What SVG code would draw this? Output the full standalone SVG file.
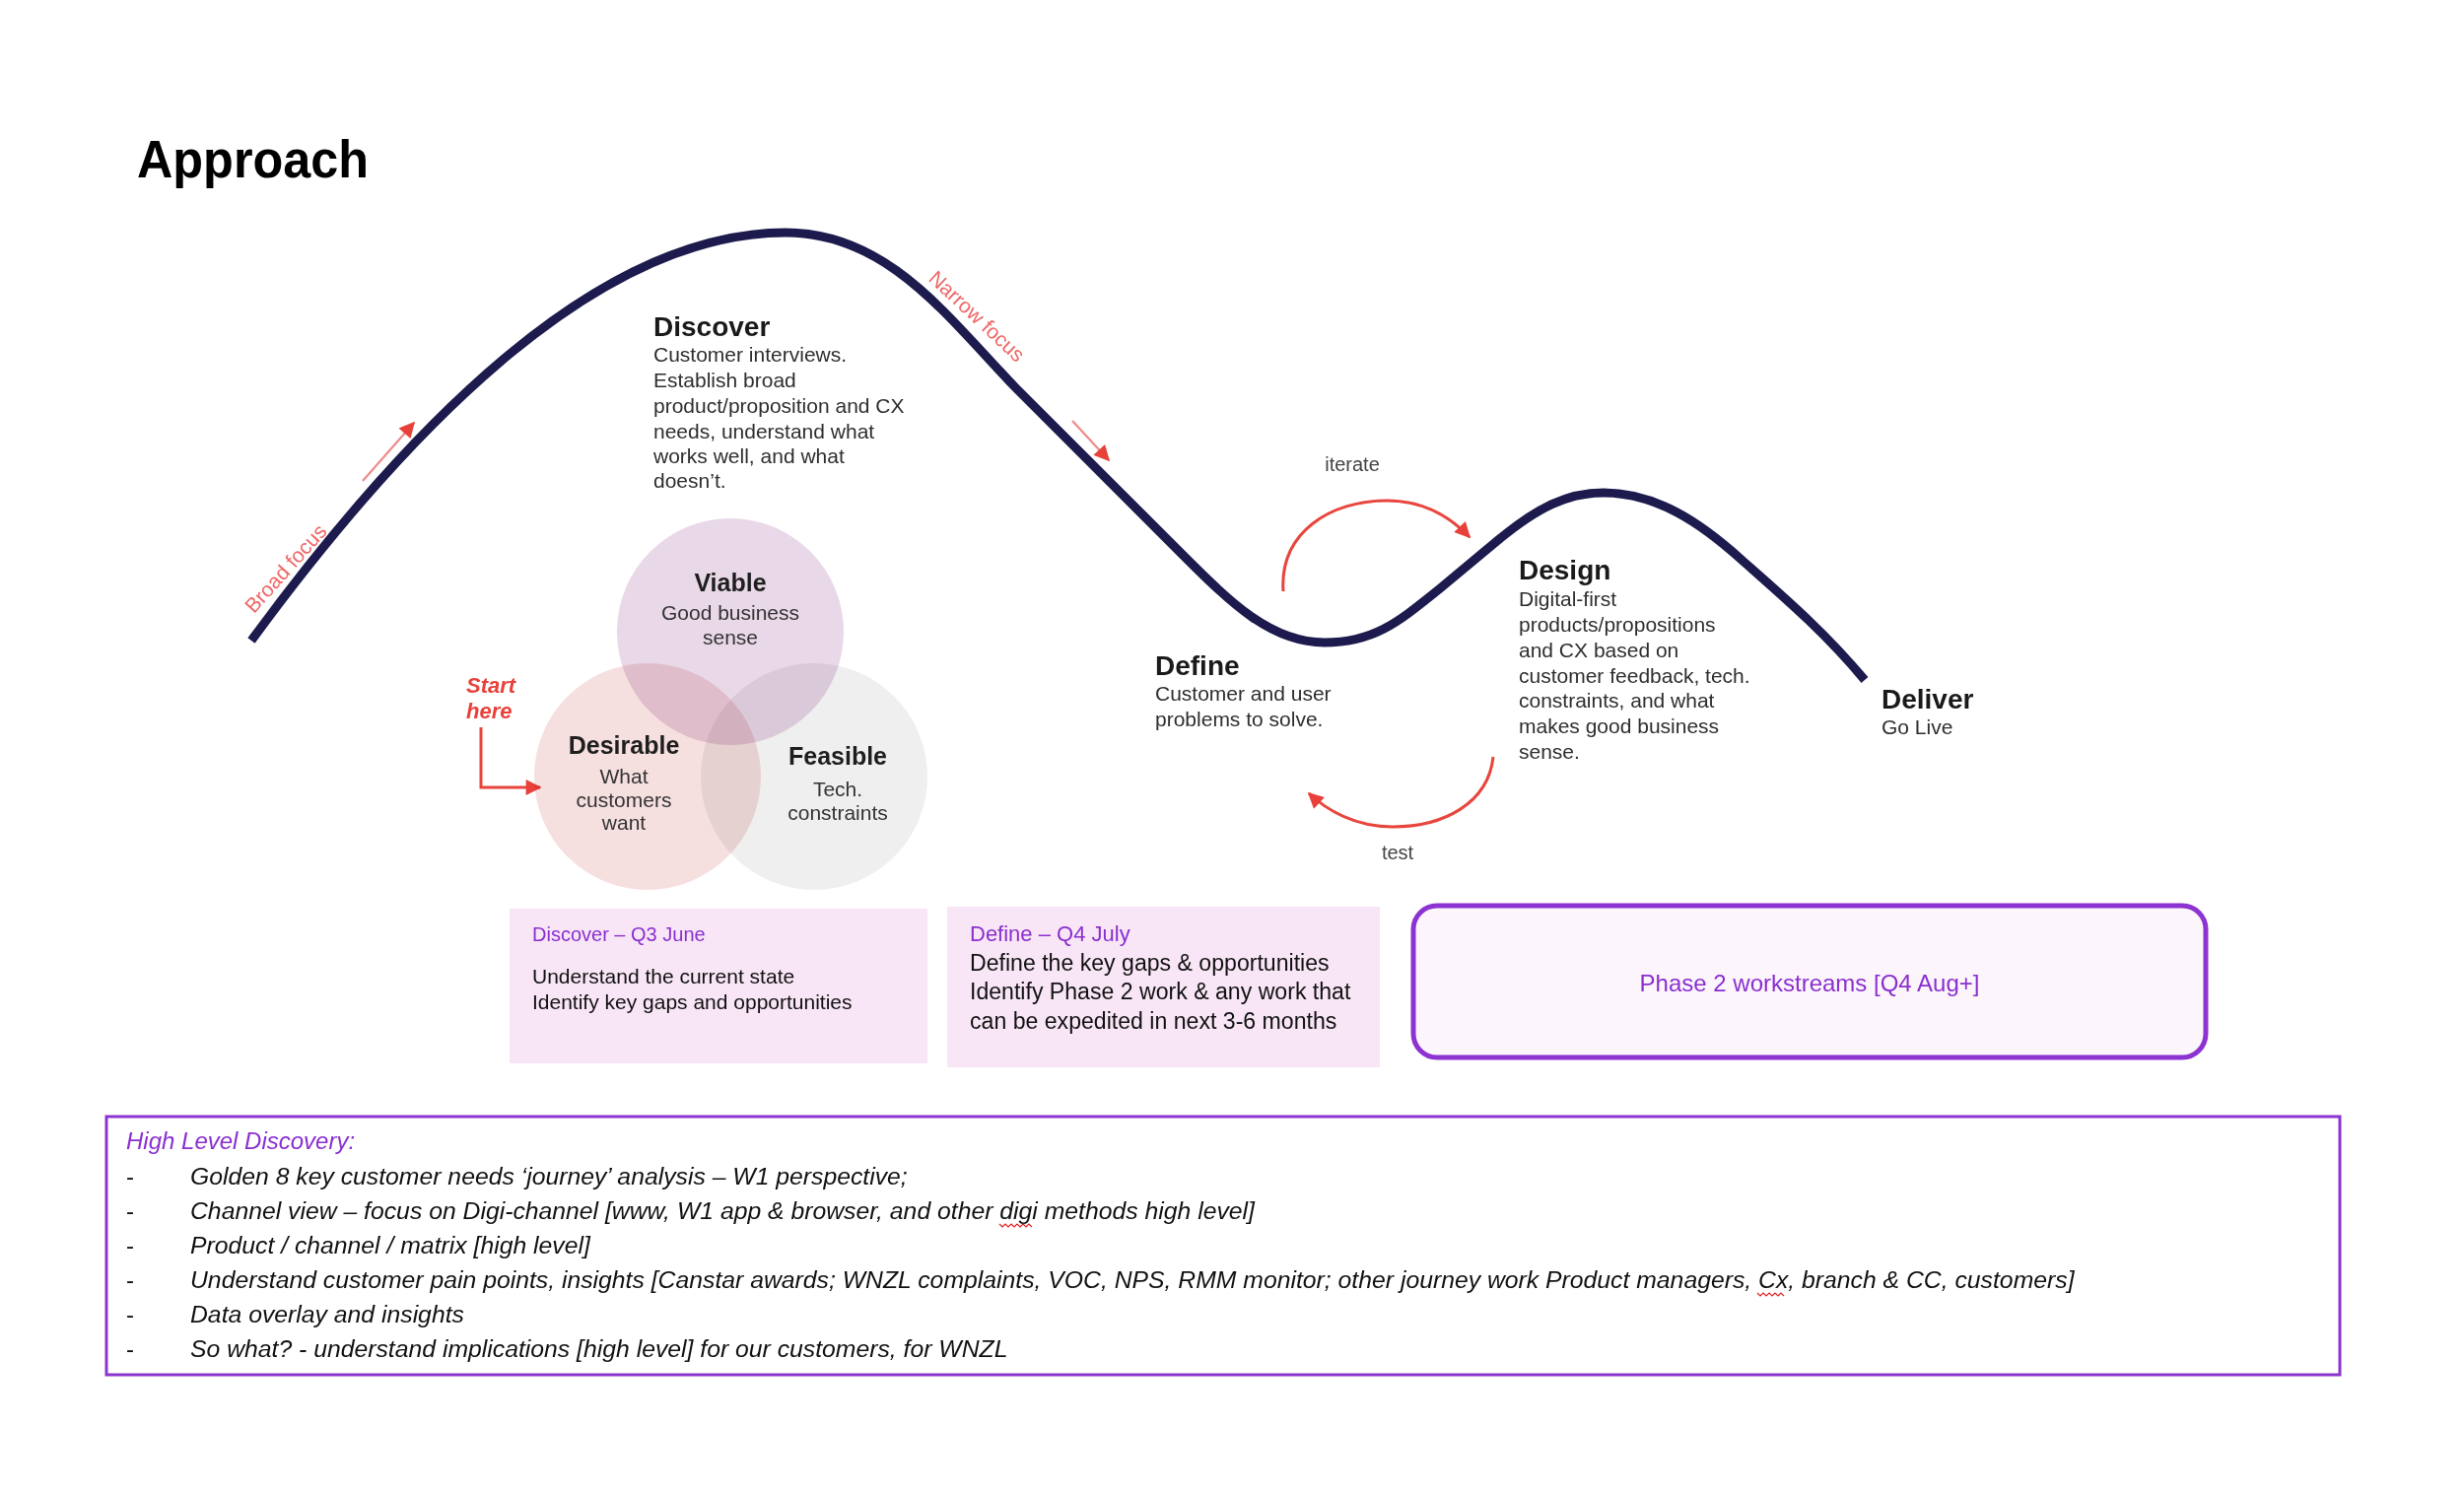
<svg xmlns="http://www.w3.org/2000/svg" width="2500" height="1517" viewBox="0 0 2500 1517">
<defs>
<style>
.h{font-family:"Liberation Sans",Arial,sans-serif;font-weight:bold;font-size:28px;fill:#1a1a1a}
.b{font-family:"Liberation Sans",Arial,sans-serif;font-size:21px;fill:#2e2e2e}
.vh{font-family:"Liberation Sans",Arial,sans-serif;font-weight:bold;font-size:25px;fill:#1e1e1e;text-anchor:middle}
.vb{font-family:"Liberation Sans",Arial,sans-serif;font-size:21px;fill:#333;text-anchor:middle}
.rl{font-family:"Liberation Sans",Arial,sans-serif;font-size:21px;fill:#ee6666}
.gl{font-family:"Liberation Sans",Arial,sans-serif;font-size:20px;fill:#444;text-anchor:middle}
.ph{font-family:"Liberation Sans",Arial,sans-serif;font-size:20px;fill:#8a2fcf}
.pb{font-family:"Liberation Sans",Arial,sans-serif;font-size:21px;fill:#111}
.pb2{font-family:"Liberation Sans",Arial,sans-serif;font-size:23.1px;fill:#111}
.li{font-family:"Liberation Sans",Arial,sans-serif;font-size:24.75px;font-style:italic;fill:#111}
.arr{fill:none;stroke:#e8453d;stroke-width:3}
.thin{fill:none;stroke:#f08a8a;stroke-width:2.2}
.venn{mix-blend-mode:multiply}
</style>
<marker id="ah" viewBox="0 0 10 10" refX="9" refY="5" markerWidth="18" markerHeight="16" markerUnits="userSpaceOnUse" orient="auto">
<path d="M0,0 L10,5 L0,10 z" fill="#e8413a"/>
</marker>
</defs>
<rect width="2500" height="1517" fill="#ffffff"/>

<text x="139" y="180" font-family="'Liberation Sans',Arial,sans-serif" font-weight="bold" font-size="53" fill="#000" textLength="235" lengthAdjust="spacingAndGlyphs">Approach</text>

<g id="curve">
<path d="M255,650 C420,425 610,236 797,236 C900,236 960,320 1030,393 L1200,563 C1250,613 1290,652 1344,652 C1395,652 1420,630 1460,598 L1520,548 C1560,515 1590,500 1627,500 C1680,500 1725,530 1767,568 C1810,606 1850,640 1892,690" fill="none" stroke="#1d1a4d" stroke-width="9"/>
</g>

<g id="connectors">
<path class="thin" d="M368,488 L420,429" marker-end="url(#ah)"/>
<path class="thin" d="M1088,427 L1125,467" marker-end="url(#ah)"/>
<path class="arr" d="M1302,600 C1298,540 1350,508 1407,508 C1445,508 1472,525 1491,545" marker-end="url(#ah)"/>
<path class="arr" d="M1515,768 C1510,815 1465,839 1413,839 C1375,839 1346,822 1328,805" marker-end="url(#ah)"/>
<path class="arr" d="M488,738 L488,799 L548,799" marker-end="url(#ah)"/>
</g>

<g id="broad-focus">
<text class="rl" x="290" y="577" text-anchor="middle" dy="7" transform="rotate(-48 290 577)">Broad focus</text>
</g>
<g id="narrow-focus">
<text class="rl" x="991" y="321" text-anchor="middle" dy="7" transform="rotate(43 991 321)">Narrow focus</text>
</g>
<g id="iterate"><text class="gl" x="1372" y="478">iterate</text></g>
<g id="test"><text class="gl" x="1418" y="872">test</text></g>

<g id="discover">
<text class="h" x="663" y="341">Discover</text>
<text class="b" x="663" y="367">Customer interviews.</text>
<text class="b" x="663" y="393">Establish broad</text>
<text class="b" x="663" y="419">product/proposition and CX</text>
<text class="b" x="663" y="445">needs, understand what</text>
<text class="b" x="663" y="470">works well, and what</text>
<text class="b" x="663" y="495">doesn’t.</text>
</g>

<g id="define">
<text class="h" x="1172" y="685">Define</text>
<text class="b" x="1172" y="711">Customer and user</text>
<text class="b" x="1172" y="737">problems to solve.</text>
</g>

<g id="design">
<text class="h" x="1541" y="588">Design</text>
<text class="b" x="1541" y="615">Digital-first</text>
<text class="b" x="1541" y="641">products/propositions</text>
<text class="b" x="1541" y="667">and CX based on</text>
<text class="b" x="1541" y="693">customer feedback, tech.</text>
<text class="b" x="1541" y="718">constraints, and what</text>
<text class="b" x="1541" y="744">makes good business</text>
<text class="b" x="1541" y="770">sense.</text>
</g>

<g id="deliver">
<text class="h" x="1909" y="719">Deliver</text>
<text class="b" x="1909" y="745">Go Live</text>
</g>

<g id="venn">
<circle class="venn" cx="741" cy="641" r="115" fill="#e9d8e8"/>
<circle class="venn" cx="826" cy="788" r="115" fill="#efefef"/>
<circle class="venn" cx="657" cy="788" r="115" fill="#f6dfdf"/>
</g>
<g id="viable">
<text class="vh" x="741" y="600">Viable</text>
<text class="vb" x="741" y="629">Good business</text>
<text class="vb" x="741" y="654">sense</text>
</g>
<g id="desirable">
<text class="vh" x="633" y="765">Desirable</text>
<text class="vb" x="633" y="795">What</text>
<text class="vb" x="633" y="819">customers</text>
<text class="vb" x="633" y="842">want</text>
</g>
<g id="feasible">
<text class="vh" x="850" y="776">Feasible</text>
<text class="vb" x="850" y="808">Tech.</text>
<text class="vb" x="850" y="832">constraints</text>
</g>
<g id="start-here">
<text x="473" y="703" font-family="'Liberation Sans',Arial,sans-serif" font-weight="bold" font-style="italic" font-size="22" fill="#e8413a">Start</text>
<text x="473" y="729" font-family="'Liberation Sans',Arial,sans-serif" font-weight="bold" font-style="italic" font-size="22" fill="#e8413a">here</text>
</g>

<g id="box-discover">
<rect x="517" y="922" width="424" height="157" fill="#f8e6f6"/>
<text class="ph" x="540" y="955">Discover – Q3 June</text>
<text class="pb" x="540" y="998">Understand the current state</text>
<text class="pb" x="540" y="1024">Identify key gaps and opportunities</text>
</g>

<g id="box-define">
<rect x="961" y="920" width="439" height="163" fill="#f8e6f6"/>
<text class="ph" x="984" y="955" style="font-size:22px">Define – Q4 July</text>
<text class="pb2" x="984" y="985">Define the key gaps &amp; opportunities</text>
<text class="pb2" x="984" y="1014">Identify Phase 2 work &amp; any work that</text>
<text class="pb2" x="984" y="1044">can be expedited in next 3-6 months</text>
</g>

<g id="box-phase2">
<rect x="1434" y="919" width="804" height="154" rx="24" fill="#fcf5fc" stroke="#8c33d1" stroke-width="5"/>
<text x="1836" y="1006" text-anchor="middle" font-family="'Liberation Sans',Arial,sans-serif" font-size="24" fill="#8a2fcf">Phase 2 workstreams [Q4 Aug+]</text>
</g>

<g id="box-high-level">
<rect x="108" y="1133" width="2266" height="262" fill="#ffffff" stroke="#8b35cf" stroke-width="3"/>
<text x="128" y="1166" font-family="'Liberation Sans',Arial,sans-serif" font-size="24" font-style="italic" fill="#8a2fcf">High Level Discovery:</text>
<g font-family="'Liberation Sans',Arial,sans-serif" font-size="24" fill="#111">
<text x="128" y="1202">-</text>
<text x="128" y="1237">-</text>
<text x="128" y="1272">-</text>
<text x="128" y="1307">-</text>
<text x="128" y="1342">-</text>
<text x="128" y="1377">-</text>
</g>
<text class="li" x="193" y="1202">Golden 8 key customer needs ‘journey’ analysis – W1 perspective;</text>
<text class="li" x="193" y="1237">Channel view – focus on Digi-channel [www, W1 app &amp; browser, and other digi methods high level]</text>
<text class="li" x="193" y="1272">Product / channel / matrix [high level]</text>
<text class="li" x="193" y="1307">Understand customer pain points, insights [Canstar awards; WNZL complaints, VOC, NPS, RMM monitor; other journey work Product managers, Cx, branch &amp; CC, customers]</text>
<text class="li" x="193" y="1342">Data overlay and insights</text>
<text class="li" x="193" y="1377">So what? - understand implications [high level] for our customers, for WNZL</text>
<path d="M1014,1242 l3,3 l3,-3 l3,3 l3,-3 l3,3 l3,-3 l3,3 l3,-3 l3,3 l3,-3 l3,3" fill="none" stroke="#e02020" stroke-width="1.2"/>
<path d="M1783,1312 l3,3 l3,-3 l3,3 l3,-3 l3,3 l3,-3 l3,3 l3,-3 l3,3" fill="none" stroke="#e02020" stroke-width="1.2"/>
</g>
</svg>
